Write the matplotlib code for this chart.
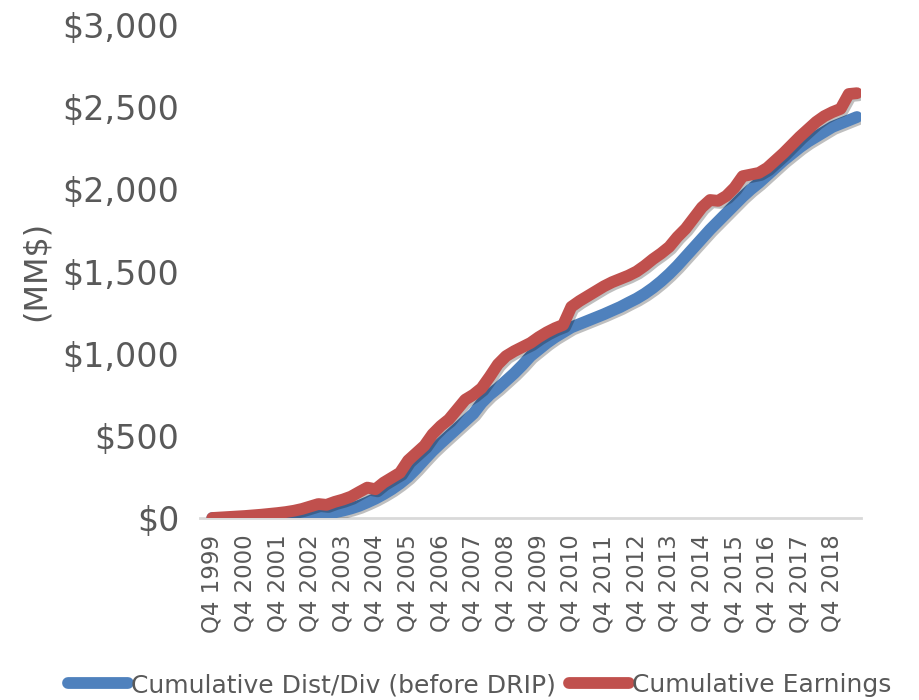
import matplotlib
matplotlib.use("Agg")
import matplotlib.pyplot as plt
import matplotlib.patheffects as pe
from matplotlib.ticker import FuncFormatter

# quarterly, Q4 1999 .. Q3 2019
dist_div = [
    0, 0, 0, 0, 0, 0, 0, 0,
    1, 3, 5, 8, 12, 18, 25, 34,
    45, 58, 74, 95, 118, 145, 175, 210,
    250, 300, 355, 408, 455, 500, 545, 590,
    635, 700, 750, 790, 835, 880, 930, 985,
    1025, 1065, 1100, 1130, 1160, 1180, 1200, 1220,
    1240, 1262, 1284, 1310, 1335, 1365, 1400, 1440,
    1485, 1535, 1590, 1645, 1700, 1755, 1805, 1855,
    1905, 1955, 2000, 2040, 2085, 2130, 2175, 2215,
    2255, 2290, 2320, 2350, 2380, 2400, 2420, 2440,
]
earnings = [
    0, 3, 6, 9, 12, 16, 20, 25,
    30, 36, 44, 55, 70, 85, 80, 98,
    112, 130, 158, 185, 175, 215, 245, 275,
    350, 395, 440, 510, 560, 600, 660, 720,
    750, 790, 860, 935, 985, 1015, 1040, 1065,
    1100, 1130, 1155, 1175, 1285, 1320, 1350, 1380,
    1410, 1435, 1455, 1475, 1500, 1535, 1575, 1610,
    1650, 1710, 1760, 1825, 1890, 1935, 1930, 1960,
    2010, 2080, 2090, 2100, 2130, 2175, 2220, 2270,
    2320, 2365, 2410, 2445, 2470, 2490, 2580, 2585,
]
tick_labels = ["Q4 1999", "Q4 2000", "Q4 2001", "Q4 2002", "Q4 2003",
               "Q4 2004", "Q4 2005", "Q4 2006", "Q4 2007", "Q4 2008",
               "Q4 2009", "Q4 2010", "Q4 2011", "Q4 2012", "Q4 2013",
               "Q4 2014", "Q4 2015", "Q4 2016", "Q4 2017", "Q4 2018"]
series_names = ["Cumulative Dist/Div (before DRIP)", "Cumulative Earnings"]
colors = ["#4F81BD", "#C0504D"]
gray = "#595959"

fig = plt.figure(figsize=(9.19, 7.0), dpi=100)
ax = fig.add_axes([200 / 919, 1 - 518 / 700, 661 / 919, 493 / 700])

shadow = [pe.SimpleLineShadow(offset=(1.5, -1.5), alpha=0.25, shadow_color="k"), pe.Normal()]
x = list(range(len(dist_div)))
for vals, name, c in zip([dist_div, earnings], series_names, colors):
    ax.plot(x, vals, color=c, lw=8.5, label=name, solid_capstyle="round",
            solid_joinstyle="round", zorder=3, path_effects=shadow)

ax.set_xlim(-1.5, 79.5)
ax.set_ylim(0, 3000)
ax.set_yticks(range(0, 3001, 500))
ax.yaxis.set_major_formatter(FuncFormatter(lambda v, p: f"${v:,.0f}"))
ax.set_xticks(range(0, 80, 4))
ax.set_xticklabels(tick_labels, rotation=90)
ax.tick_params(axis="y", length=0, pad=15, labelsize=24, labelcolor=gray)
ax.tick_params(axis="x", length=0, pad=12, labelsize=16.5, labelcolor=gray)

for s in ["top", "right", "left"]:
    ax.spines[s].set_visible(False)
ax.spines["bottom"].set_color("#D9D9D9")
ax.spines["bottom"].set_linewidth(2)

fig.text(36 / 919, 1 - 271 / 700, "(MM$)", rotation=90, ha="center", va="center",
         fontsize=23, color=gray)

leg = fig.legend(loc="center", bbox_to_anchor=(0.522, 15 / 700), ncol=2, frameon=False,
                 fontsize=18, handlelength=2.4, handletextpad=0.12, columnspacing=0.5,
                 labelcolor=gray, borderaxespad=0)
for h in leg.legend_handles:
    h.set_path_effects([])

fig.savefig("out.png", dpi=100)
